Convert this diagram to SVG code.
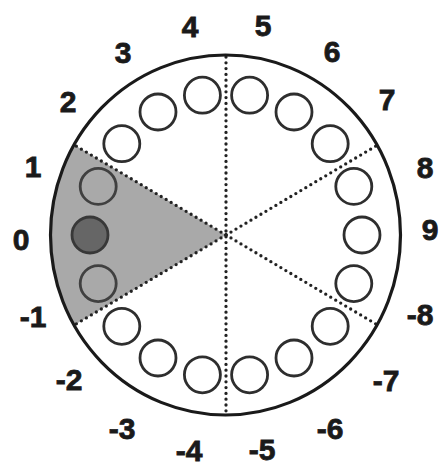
<svg xmlns="http://www.w3.org/2000/svg" width="440" height="466" viewBox="0 0 440 466">
<defs>
<style>
.lbl{font-family:"Liberation Sans",Arial,sans-serif;font-weight:bold;font-size:30px;fill:#1a1a1a;stroke:#1a1a1a;stroke-width:0.8;text-anchor:middle}
.dot{stroke:#222;stroke-width:3.3;stroke-linecap:round;stroke-dasharray:0 5.8;fill:none}
.c{fill:#fff;stroke:#2e2e2e;stroke-width:2.8}
.cg{fill:#a9a9a9;stroke:#404040;stroke-width:2.8}
.cd{fill:#666;stroke:#383838;stroke-width:2.8}
</style>
</defs>
<rect width="440" height="466" fill="#fff"/>
<path d="M226,235 L74.4,145 A175,180 0 0,0 74.4,325 Z" fill="#a9a9a9"/>
<g id="connectors">
<line class="dot" x1="226" y1="57" x2="226" y2="413"/>
<line class="dot" x1="226" y1="235" x2="74.4" y2="145"/>
<line class="dot" x1="226" y1="235" x2="74.4" y2="325"/>
<line class="dot" x1="226" y1="235" x2="377.6" y2="145"/>
<line class="dot" x1="226" y1="235" x2="377.6" y2="325"/>
</g>
<ellipse cx="225.5" cy="235" rx="175" ry="180" fill="none" stroke="#1a1a1a" stroke-width="3.2"/>
<g id="n1"><circle class="c" cx="249.6" cy="95.2" r="18"/></g>
<g id="n2"><circle class="c" cx="294" cy="112" r="18"/></g>
<g id="n3"><circle class="c" cx="330.2" cy="143.7" r="18"/></g>
<g id="n4"><circle class="c" cx="353.8" cy="186.4" r="18"/></g>
<g id="n5"><circle class="c" cx="362" cy="235" r="18"/></g>
<g id="n6"><circle class="c" cx="353.8" cy="283.6" r="18"/></g>
<g id="n7"><circle class="c" cx="330.2" cy="326.3" r="18"/></g>
<g id="n8"><circle class="c" cx="294" cy="358" r="18"/></g>
<g id="n9"><circle class="c" cx="249.6" cy="374.8" r="18"/></g>
<g id="n10"><circle class="c" cx="202.4" cy="374.8" r="18"/></g>
<g id="n11"><circle class="c" cx="158" cy="358" r="18"/></g>
<g id="n12"><circle class="c" cx="121.8" cy="326.3" r="18"/></g>
<g id="n13"><circle class="cg" cx="98.2" cy="283.6" r="18"/></g>
<g id="n14"><circle class="cd" cx="90" cy="235" r="18"/></g>
<g id="n15"><circle class="cg" cx="98.2" cy="186.4" r="18"/></g>
<g id="n16"><circle class="c" cx="121.8" cy="143.7" r="18"/></g>
<g id="n17"><circle class="c" cx="158" cy="112" r="18"/></g>
<g id="n18"><circle class="c" cx="202.4" cy="95.2" r="18"/></g>
<g id="labels">
<text class="lbl" x="190" y="37">4</text>
<text class="lbl" x="263" y="36">5</text>
<text class="lbl" x="123" y="63">3</text>
<text class="lbl" x="332" y="62">6</text>
<text class="lbl" x="68" y="112">2</text>
<text class="lbl" x="387" y="110">7</text>
<text class="lbl" x="33" y="177">1</text>
<text class="lbl" x="425" y="178">8</text>
<text class="lbl" x="21" y="250">0</text>
<text class="lbl" x="430" y="240">9</text>
<text class="lbl" x="33" y="327">-1</text>
<text class="lbl" x="420" y="325">-8</text>
<text class="lbl" x="69" y="390">-2</text>
<text class="lbl" x="386" y="391">-7</text>
<text class="lbl" x="122" y="439">-3</text>
<text class="lbl" x="330" y="439">-6</text>
<text class="lbl" x="189" y="461">-4</text>
<text class="lbl" x="262" y="460">-5</text>
</g>
</svg>
